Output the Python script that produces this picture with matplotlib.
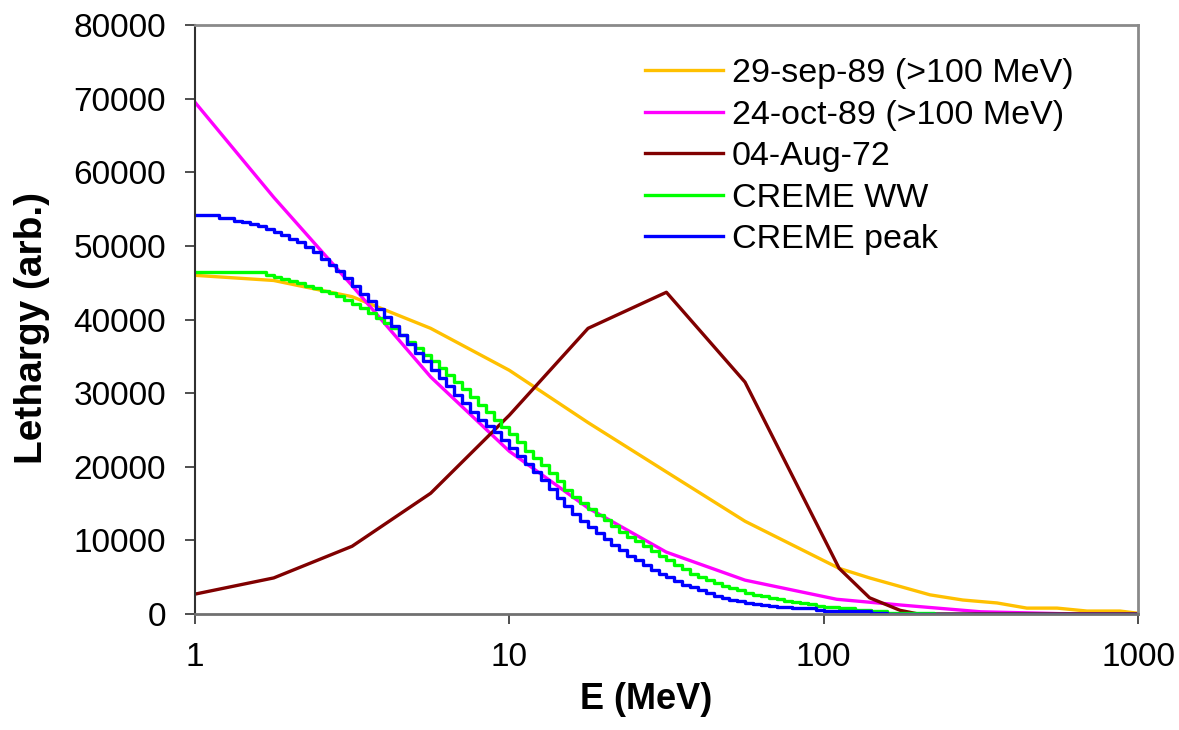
import numpy as np
import matplotlib
matplotlib.use("Agg")
from matplotlib import pyplot as plt

plt.rcParams['font.family'] = ['Liberation Sans', 'DejaVu Sans']

# 29-sep-89 (>100 MeV)
e_sep = [1.0, 1.78, 3.16, 5.62, 10.0, 17.8, 31.6, 56.2, 112, 140, 218, 277, 356, 443, 553, 688, 877, 1000]
v_sep = [46000, 45300, 43100, 38800, 33100, 26000, 19300, 12600, 6200, 4900, 2600, 1900, 1500, 800, 800, 400, 400, 100]

# 24-oct-89 (>100 MeV)
e_oct = [1.0, 1.78, 3.16, 5.62, 10.0, 17.8, 31.6, 56.2, 110, 178, 316, 562, 1000]
v_oct = [69500, 56600, 44600, 32200, 22100, 14400, 8400, 4600, 2000, 1200, 300, 50, 0]

# 04-Aug-72
e_aug = [1.0, 1.78, 3.16, 5.62, 10.0, 17.8, 31.6, 56.2, 112, 140, 175, 200, 1000]
v_aug = [2700, 4900, 9200, 16400, 27000, 38800, 43700, 31500, 6200, 2200, 500, 0, 0]

# CREME spectra (step curves)
e_creme = [1.000, 1.059, 1.122, 1.189, 1.259, 1.334, 1.413, 1.496, 1.585, 1.679,
           1.778, 1.884, 1.995, 2.113, 2.239, 2.371, 2.512, 2.661, 2.818, 2.985,
           3.162, 3.350, 3.548, 3.758, 3.981, 4.217, 4.467, 4.732, 5.012, 5.309,
           5.623, 5.957, 6.310, 6.683, 7.079, 7.499, 7.943, 8.414, 8.913, 9.441,
           10.00, 10.59, 11.22, 11.89, 12.59, 13.34, 14.13, 14.96, 15.85, 16.79,
           17.78, 18.84, 19.95, 21.13, 22.39, 23.71, 25.12, 26.61, 28.18, 29.85,
           31.62, 33.50, 35.48, 37.58, 39.81, 42.17, 44.67, 47.32, 50.12, 53.09,
           56.23, 59.57, 63.10, 66.83, 70.79, 74.99, 79.43, 84.14, 89.13, 94.41,
           100.0, 112.2, 125.9, 141.3, 158.5, 177.8, 199.5, 223.9, 251.2, 1000]
v_ww = [46500, 46500, 46500, 46500, 46500, 46500, 46500, 46500, 46500, 46000,
        45800, 45500, 45200, 44900, 44600, 44300, 43900, 43600, 43200, 42700,
        42100, 41500, 40900, 40200, 39500, 38800, 37900, 37000, 36100, 35200,
        34300, 33400, 32500, 31500, 30500, 29500, 28400, 27400, 26300, 25400,
        24500, 23300, 22200, 21200, 20200, 19100, 18000, 16900, 15900, 15100,
        14300, 13500, 12800, 12000, 11200, 10500, 9900, 9200, 8600, 7900,
        7300, 6700, 6100, 5500, 5000, 4600, 4200, 3800, 3500, 3200,
        2900, 2600, 2400, 2200, 2000, 1800, 1600, 1500, 1300, 1100,
        1000, 800, 600, 400, 200, 200, 200, 0, 0, 0]
v_peak = [54200, 54200, 54200, 53800, 53800, 53400, 53300, 53000, 52700, 52300,
          51900, 51500, 51000, 50500, 49900, 49200, 48200, 47400, 46600, 45600,
          44600, 43500, 42500, 41400, 40300, 39100, 37900, 36700, 35500, 34400,
          33200, 32100, 31000, 29800, 28600, 27400, 26300, 25600, 24700, 23700,
          22600, 21500, 20400, 19300, 18200, 17000, 15800, 14700, 13600, 12600,
          11800, 11000, 10200, 9400, 8700, 7900, 7300, 6600, 6000, 5400,
          5000, 4500, 4000, 3600, 3300, 2900, 2500, 2200, 1900, 1700,
          1500, 1300, 1200, 1100, 1000, 900, 800, 800, 800, 500,
          400, 400, 400, 100, 0, 0, 0, 0, 0, 0]

fig = plt.figure(figsize=(11.79, 7.30), dpi=100)
ax = fig.add_axes([195/1179, 1-614/730, (1138-195)/1179, (614-25)/730])

lw = 2.4
ax.plot(e_sep, v_sep, color='#FFC000', lw=lw, label='29-sep-89 (>100 MeV)')
ax.plot(e_oct, v_oct, color='#FF00FF', lw=lw, label='24-oct-89 (>100 MeV)')
ax.plot(e_aug, v_aug, color='#800000', lw=lw, label='04-Aug-72')
ax.plot(e_creme, v_ww, color='#00FF00', lw=lw, drawstyle='steps-post', label='CREME WW')
ax.plot(e_creme, v_peak, color='#0000FF', lw=lw, drawstyle='steps-post', label='CREME peak')

ax.set_xscale('log')
ax.set_xlim(1, 1000)
ax.set_ylim(0, 80000)
ax.set_xticks([1, 10, 100, 1000])
ax.set_xticklabels(['1', '10', '100', '1000'])
ax.xaxis.set_minor_locator(matplotlib.ticker.NullLocator())
ax.set_yticks(np.arange(0, 80001, 10000))
ax.tick_params(axis='both', direction='out', length=7, width=1.3, labelsize=24, color='#404040')
ax.tick_params(axis='y', pad=14)
ax.tick_params(axis='x', pad=13)

for side in ['top', 'right']:
    ax.spines[side].set_color('#8a8a8a')
    ax.spines[side].set_linewidth(2)
ax.spines['left'].set_color('#303030')
ax.spines['left'].set_linewidth(1.5)
ax.spines['bottom'].set_color('#707070')
ax.spines['bottom'].set_linewidth(2)

ax.set_xlabel('E (MeV)', fontsize=26, fontweight='bold')
ax.xaxis.set_label_coords(0.478, -0.115)
ax.set_ylabel('Lethargy (arb.)', fontsize=28, fontweight='bold')
ax.yaxis.set_label_coords(-0.154, 0.486)

leg = ax.legend(loc='upper left', bbox_to_anchor=(645/1179, 1-58/730),
                bbox_transform=fig.transFigure, frameon=False, fontsize=24.5,
                handlelength=2.3, handletextpad=0.25, labelspacing=0.31,
                borderpad=0, borderaxespad=0)

fig.savefig('out.png', dpi=100)
